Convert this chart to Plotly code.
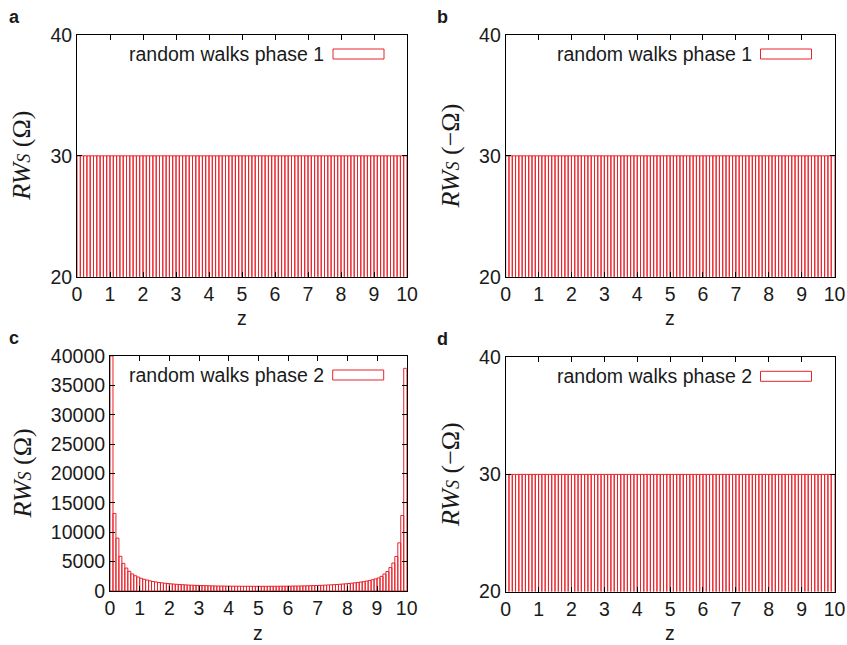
import numpy as np
import plotly.graph_objects as go

# Histogram bins over z in [0, 10], 100 bins of width 0.1
BIN_WIDTH = 0.1
N_BINS = 100
z_centers = (np.arange(N_BINS) + 0.5) * BIN_WIDTH

# Phase-1 / (-Omega) histograms: flat counts of 30 in every bin
rws_phase1_omega = [30] * N_BINS
rws_phase1_neg_omega = [30] * N_BINS
rws_phase2_neg_omega = [30] * N_BINS

# Phase-2 (Omega) histogram: strongly peaked at both walls
rws_phase2_omega = [
    40000, 13200, 9000, 5900, 4700, 3900, 3350, 2900, 2600, 2380,
    2160, 1990, 1870, 1730, 1610, 1540, 1450, 1390, 1330, 1270,
    1220, 1180, 1140, 1100, 1070, 1040, 1010, 990, 970, 950,
    930, 910, 900, 890, 870, 860, 850, 845, 835, 830,
    825, 820, 815, 812, 808, 805, 803, 801, 800, 800,
    800, 800, 800, 801, 803, 805, 808, 812, 817, 822,
    828, 835, 842, 850, 860, 872, 885, 900, 915, 930,
    950, 970, 995, 1020, 1050, 1080, 1110, 1150, 1190, 1230,
    1280, 1330, 1390, 1450, 1520, 1600, 1690, 1800, 1920, 2060,
    2220, 2490, 2890, 3320, 3980, 4760, 5880, 8200, 12850, 37900,
]

x_ticks = list(range(0, 11))
y_ticks_small = [20, 30, 40]
y_ticks_big = [0, 5000, 10000, 15000, 20000, 25000, 30000, 35000, 40000]

panel_letters = ["a", "b", "c", "d"]
legend_texts = ["random walks phase 1", "random walks phase 1",
                "random walks phase 2", "random walks phase 2"]

W, H = 847, 645
RED = "#e8232b"
INK = "#1a1a1a"
SANS = "Liberation Sans"
SERIF = "Liberation Serif"


def px(x):
    return x / W


def py(y):
    return 1 - y / H


# Plot-area rectangles in pixels: (left, right, top, bottom)
areas = [
    (77, 407, 35, 276.7),
    (505.7, 834.5, 35, 276.7),
    (110, 406.7, 356, 591),
    (505.7, 834.5, 357.3, 591.5),
]
series = [rws_phase1_omega, rws_phase1_neg_omega, rws_phase2_omega, rws_phase2_neg_omega]
yranges = [[20, 40], [20, 40], [0, 40000], [20, 40]]
yticks = [y_ticks_small, y_ticks_small, y_ticks_big, y_ticks_small]
ytitles = ["(Ω)", "(−Ω)", "(Ω)", "(−Ω)"]
# x-title placement: (pixel y, anchor)
xtitle_pos = [(318, "middle"), (318, "middle"), (645, "bottom"), (645, "bottom")]

fig = go.Figure()
layout = dict(
    width=W, height=H,
    margin=dict(l=0, r=0, t=0, b=0, autoexpand=False),
    paper_bgcolor="white", plot_bgcolor="white",
    showlegend=False,
    font=dict(family=SANS, size=19.5, color=INK),
)
annotations = []
shapes = []

for i in range(4):
    n = "" if i == 0 else str(i + 1)
    xa, ya = "x" + n, "y" + n
    l, r, t, b = areas[i]
    fig.add_trace(go.Bar(
        x=z_centers, y=series[i], width=BIN_WIDTH,
        marker=dict(color="rgba(0,0,0,0)", line=dict(color=RED, width=1)),
        xaxis=xa, yaxis=ya,
    ))
    common = dict(
        showline=True, mirror="allticks", linecolor="black", linewidth=1,
        ticks="inside", ticklen=5, tickcolor="black", tickwidth=1,
        showgrid=False, zeroline=False, automargin=False,
        tickfont=dict(family=SANS, size=19.5, color=INK),
    )
    layout["xaxis" + n] = dict(
        domain=[px(l), px(r)], anchor=ya, range=[0, 10],
        tickvals=x_ticks, **common,
    )
    layout["yaxis" + n] = dict(
        domain=[py(b), py(t)], anchor=xa, range=yranges[i],
        tickvals=yticks[i], tickformat="d", **common,
    )

    # panel letter
    annotations.append(dict(
        x=px(l - 63 if i != 2 else 14), y=py(t - 18), xref="paper", yref="paper",
        text="<b>%s</b>" % panel_letters[i], showarrow=False,
        font=dict(family=SANS, size=18, color=INK), xanchor="center", yanchor="middle",
    ))
    # y-axis title
    annotations.append(dict(
        x=px(l - 55 if i != 2 else 22), y=py((t + b) / 2), xref="paper", yref="paper",
        text="<i>RW</i><i><span style='font-size:18px'>S</span></i> " + ytitles[i],
        textangle=-90, showarrow=False,
        font=dict(family=SERIF, size=26, color=INK), xanchor="center", yanchor="middle",
    ))
    # x-axis title
    ty, tanchor = xtitle_pos[i]
    annotations.append(dict(
        x=px((l + r) / 2), y=py(ty), xref="paper", yref="paper",
        text="z", showarrow=False, borderpad=0,
        font=dict(family=SANS, size=19.5, color=INK), xanchor="center", yanchor=tanchor,
    ))
    # key: text followed by an outlined sample box
    box_l, box_r = r - 74, r - 23
    key_y = t + 19
    annotations.append(dict(
        x=px(box_l - 7), y=py(key_y), xref="paper", yref="paper",
        text=legend_texts[i], showarrow=False,
        font=dict(family=SANS, size=19.5, color=INK), xanchor="right", yanchor="middle",
    ))
    shapes.append(dict(
        type="rect", xref="paper", yref="paper",
        x0=px(box_l), x1=px(box_r), y0=py(key_y - 5), y1=py(key_y + 5),
        line=dict(color=RED, width=1), fillcolor="white",
    ))

layout["annotations"] = annotations
layout["shapes"] = shapes
fig.update_layout(**layout)
fig.write_html("out.html")
